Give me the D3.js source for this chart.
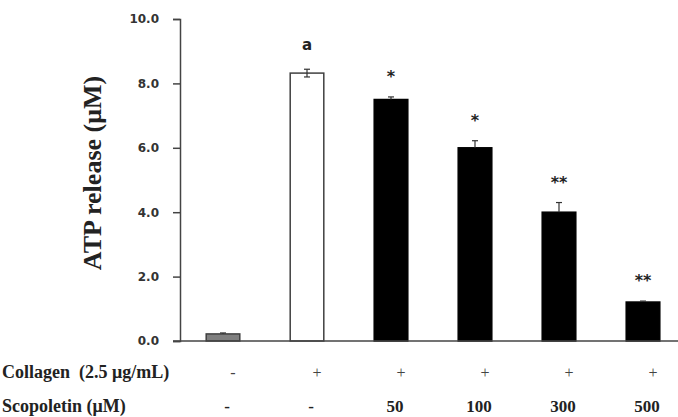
<!DOCTYPE html>
<html>
<head>
<meta charset="utf-8">
<script src="https://cdn.jsdelivr.net/npm/d3@7"></script>
<style>
	body { margin: 0; background: #fff; }
	svg { display: block; }
	.tick text { font-family: "DejaVu Sans", sans-serif; font-weight: bold; font-size: 12px; fill: #333; }
	.serif { font-family: "Liberation Serif", "DejaVu Serif", serif; font-weight: bold; }
</style>
</head>
<body>
<svg id="chart" width="678" height="417"></svg>
<script>
var groups = ["ctrl", "col", "s50", "s100", "s300", "s500"];
var values = [0.22, 8.32, 7.5, 6.0, 4.0, 1.21];
var errors = [0.03, 0.12, 0.08, 0.22, 0.3, 0.03];
var marks = ["", "a", "*", "*", "**", "**"];
var collagenRow = ["-", "+", "+", "+", "+", "+"];
var scopoletinRow = ["-", "-", "50", "100", "300", "500"];
var yTicks = [0, 2, 4, 6, 8, 10];
var fills = ["#7f7f7f", "#ffffff", "#000000", "#000000", "#000000", "#000000"];
var strokes = ["#404040", "#404040", "#000000", "#000000", "#000000", "#000000"];

var svg = d3.select("#chart"),
	width = +svg.attr("width"),
	height = +svg.attr("height"),
	margin = { top: 19, left: 180, right: 0, bottom: 76 };

var x = d3.scaleBand()
	.domain(groups)
	.range([181, 685])
	.paddingInner(0.6)
	.paddingOuter(0.3);

var y = d3.scaleLinear()
	.domain([0, 10])
	.range([height - margin.bottom, margin.top]);

// y axis
var axisY = d3.axisLeft(y)
	.tickValues(yTicks)
	.tickSize(7)
	.tickPadding(14)
	.tickFormat(d3.format(".1f"));
var gy = svg.append("g")
	.attr("transform", "translate(" + margin.left + ",0)")
	.call(axisY);
gy.select(".domain").attr("stroke", "#444").attr("stroke-width", 1.5);
gy.selectAll(".tick line").attr("stroke", "#444").attr("stroke-width", 1.5);

// bars
var bars = svg.append("g");
bars.selectAll("rect").data(groups)
	.enter().append("rect")
	.attr("x", function(d) { return x(d); })
	.attr("width", x.bandwidth())
	.attr("y", function(d, i) { return y(values[i]); })
	.attr("height", function(d, i) { return y(0) - y(values[i]); })
	.attr("fill", function(d, i) { return fills[i]; })
	.attr("stroke", function(d, i) { return strokes[i]; })
	.attr("stroke-width", 1.5);

// error bars
var err = svg.append("g").attr("stroke", "#333").attr("stroke-width", 1.2);
groups.forEach(function(d, i) {
	var cx = x(d) + x.bandwidth() / 2;
	err.append("line")
		.attr("x1", cx).attr("x2", cx)
		.attr("y1", y(values[i] - (i === 1 ? errors[i] : 0))).attr("y2", y(values[i] + errors[i]));
	err.append("line")
		.attr("x1", cx - 3).attr("x2", cx + 3)
		.attr("y1", y(values[i] + errors[i])).attr("y2", y(values[i] + errors[i]));
	if (i === 1) {
		err.append("line")
			.attr("x1", cx - 3).attr("x2", cx + 3)
			.attr("y1", y(values[i] - errors[i])).attr("y2", y(values[i] - errors[i]));
	}
});

// x axis line
svg.append("line")
	.attr("x1", 173).attr("x2", width)
	.attr("y1", y(0)).attr("y2", y(0))
	.attr("stroke", "#444").attr("stroke-width", 1.5);

// significance marks
svg.append("g").selectAll("text").data(groups)
	.enter().append("text")
	.attr("x", function(d) { return x(d) + x.bandwidth() / 2; })
	.attr("y", function(d, i) { return y(values[i] + errors[i]) - (i === 1 ? 19 : 15); })
	.attr("text-anchor", "middle")
	.attr("font-family", "DejaVu Sans, sans-serif")
	.attr("font-weight", "bold")
	.attr("font-size", function(d, i) { return i === 1 ? "15px" : "16px"; })
	.attr("fill", "#222")
	.text(function(d, i) { return marks[i]; });

// y label
svg.append("text")
	.attr("class", "serif")
	.attr("transform", "translate(101,173) rotate(-90)")
	.attr("text-anchor", "middle")
	.attr("font-size", "26px")
	.attr("fill", "#222")
	.text("ATP release (μM)");

// bottom rows
svg.append("text").attr("class", "serif")
	.attr("x", 2).attr("y", 378)
	.attr("font-size", "18px").attr("fill", "#222")
	.style("white-space", "pre")
	.text("Collagen  (2.5 μg/mL)");
svg.append("text").attr("class", "serif")
	.attr("x", 2).attr("y", 412)
	.attr("font-size", "18px").attr("fill", "#222")
	.text("Scopoletin (μM)");

svg.append("g").selectAll("text").data(groups)
	.enter().append("text")
	.attr("x", function(d) { return x(d) + x.bandwidth() / 2; })
	.attr("dx", 10)
	.attr("y", 378)
	.attr("text-anchor", "middle")
	.attr("font-family", "Liberation Serif, serif")
	.attr("font-size", "16px")
	.attr("fill", "#444")
	.text(function(d, i) { return collagenRow[i]; });

svg.append("g").selectAll("text").data(groups)
	.enter().append("text")
	.attr("class", "serif")
	.attr("x", function(d) { return x(d) + x.bandwidth() / 2; })
	.attr("dx", 4)
	.attr("y", 412)
	.attr("text-anchor", "middle")
	.attr("font-size", "17px")
	.attr("fill", "#222")
	.text(function(d, i) { return scopoletinRow[i]; });
</script>
</body>
</html>
